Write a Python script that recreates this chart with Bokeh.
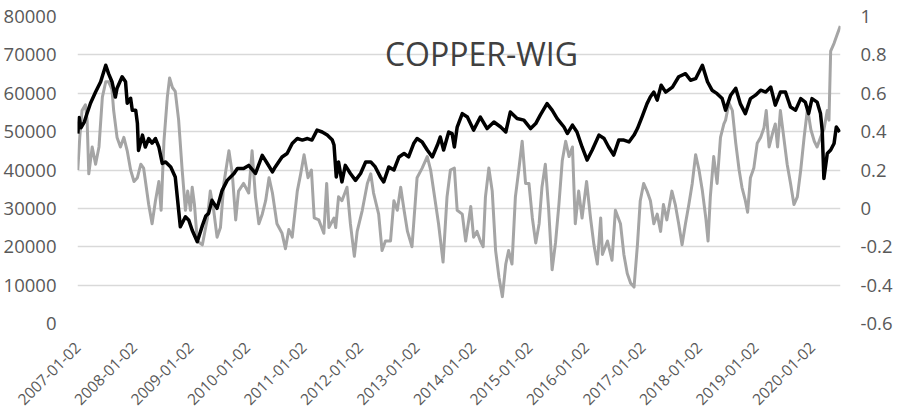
from bokeh.plotting import figure
from bokeh.models import Range1d, LinearAxis, FixedTicker, Label
from bokeh.embed import file_html
from bokeh.resources import INLINE
import math

title_text = "COPPER-WIG"
tick_years = list(range(2007, 2021))
tick_labels = [f"{y}-01-02" for y in tick_years]
left_ticks = [0, 10000, 20000, 30000, 40000, 50000, 60000, 70000, 80000]
right_ticks = [-0.6, -0.4, -0.2, 0, 0.2, 0.4, 0.6, 0.8, 1]
right_labels = ["-0.6", "-0.4", "-0.2", "0", "0.2", "0.4", "0.6", "0.8", "1"]

wig_year = [2007.005, 2007.03, 2007.06, 2007.12, 2007.17, 2007.23, 2007.32, 2007.41, 2007.50, 2007.55,
            2007.61, 2007.67, 2007.70, 2007.79, 2007.85, 2007.88, 2007.94, 2007.97, 2008.03, 2008.06,
            2008.08, 2008.15, 2008.20, 2008.26, 2008.32, 2008.38, 2008.44, 2008.50, 2008.56, 2008.65,
            2008.73, 2008.79, 2008.82, 2008.91, 2008.97, 2009.03, 2009.12, 2009.21, 2009.27, 2009.32,
            2009.38, 2009.47, 2009.56, 2009.65, 2009.77, 2009.83, 2009.94, 2010.03, 2010.15, 2010.27,
            2010.36, 2010.45, 2010.50, 2010.62, 2010.71, 2010.80, 2010.89, 2010.98, 2011.07, 2011.15,
            2011.24, 2011.33, 2011.42, 2011.51, 2011.54, 2011.58, 2011.62, 2011.68, 2011.74, 2011.83,
            2011.92, 2012.01, 2012.10, 2012.19, 2012.27, 2012.36, 2012.42, 2012.51, 2012.60, 2012.69,
            2012.78, 2012.86, 2012.95, 2013.01, 2013.10, 2013.19, 2013.28, 2013.37, 2013.42, 2013.48,
            2013.57, 2013.63, 2013.67, 2013.72, 2013.81, 2013.90, 2014.01, 2014.13, 2014.25, 2014.37,
            2014.49, 2014.58, 2014.66, 2014.78, 2014.90, 2015.02, 2015.11, 2015.19, 2015.31, 2015.40,
            2015.49, 2015.61, 2015.67, 2015.76, 2015.84, 2015.93, 2016.02, 2016.11, 2016.23, 2016.32,
            2016.40, 2016.49, 2016.58, 2016.67, 2016.76, 2016.85, 2016.91, 2016.99, 2017.08, 2017.14,
            2017.20, 2017.26, 2017.33, 2017.41, 2017.53, 2017.64, 2017.76, 2017.85, 2017.94, 2018.06,
            2018.15, 2018.23, 2018.32, 2018.41, 2018.47, 2018.56, 2018.65, 2018.73, 2018.82, 2018.91,
            2019.00, 2019.09, 2019.18, 2019.27, 2019.35, 2019.44, 2019.53, 2019.62, 2019.71, 2019.80,
            2019.88, 2019.94, 2020.00, 2020.09, 2020.15, 2020.18, 2020.21, 2020.27, 2020.33, 2020.39,
            2020.43, 2020.49]
wig_vals = [49500, 53700, 51000, 52500, 54800, 57400, 60300, 63000, 67300, 65100,
            63000, 59000, 61300, 64300, 63000, 57400, 58700, 55600, 55600, 52200,
            45100, 49100, 46000, 48200, 47000, 48200, 46000, 41700, 42100, 40800,
            38200, 29500, 25200, 27800, 26900, 24300, 21300, 25500, 28000, 28700,
            32100, 30000, 34700, 37300, 39100, 40400, 40400, 41200, 39100, 43800,
            41700, 39500, 40800, 43400, 44300, 46900, 48200, 47800, 48200, 47800,
            50400, 49900, 49100, 47800, 46500, 38200, 42100, 36900, 41200, 39100,
            37300, 39100, 42100, 42100, 40800, 38200, 36900, 40800, 40000, 43400,
            44300, 43400, 46900, 48200, 47300, 45200, 43400, 46500, 48600, 45200,
            49900, 49500, 46000, 51200, 54700, 53800, 50400, 53800, 50800, 52500,
            51200, 49900, 55100, 53400, 53000, 50800, 52100, 54300, 57300, 55600,
            53400, 51200, 49500, 51700, 49900, 46000, 42600, 45200, 49100, 48200,
            46000, 43900, 47800, 47800, 47300, 49100, 50800, 53800, 57300, 59100,
            60300, 58200, 62100, 60300, 61600, 64300, 65100, 63400, 63800, 67300,
            63000, 60800, 59900, 58600, 55600, 59500, 61300, 57300, 54700, 58600,
            59500, 60800, 60300, 61600, 56900, 60300, 60300, 56400, 55600, 58600,
            57700, 54700, 58600, 57700, 54700, 50400, 37800, 44300, 45200, 46900,
            51200, 49900]

corr_year = [2007.005, 2007.04, 2007.08, 2007.14, 2007.17, 2007.20, 2007.26, 2007.32, 2007.38, 2007.44,
             2007.50, 2007.55, 2007.61, 2007.64, 2007.70, 2007.76, 2007.82, 2007.88, 2007.94, 2008.00,
             2008.06, 2008.12, 2008.17, 2008.26, 2008.32, 2008.38, 2008.44, 2008.48, 2008.53, 2008.59,
             2008.63, 2008.68, 2008.73, 2008.79, 2008.85, 2008.91, 2008.95, 2009.00, 2009.03, 2009.07,
             2009.12, 2009.21, 2009.30, 2009.35, 2009.41, 2009.47, 2009.53, 2009.59, 2009.68, 2009.74,
             2009.80, 2009.85, 2009.94, 2010.03, 2010.09, 2010.15, 2010.21, 2010.27, 2010.33, 2010.39,
             2010.45, 2010.53, 2010.62, 2010.68, 2010.74, 2010.80, 2010.89, 2010.95, 2011.01, 2011.08,
             2011.14, 2011.19, 2011.27, 2011.36, 2011.41, 2011.45, 2011.54, 2011.57, 2011.62, 2011.68,
             2011.77, 2011.83, 2011.90, 2011.95, 2012.04, 2012.13, 2012.19, 2012.24, 2012.33, 2012.39,
             2012.45, 2012.54, 2012.60, 2012.66, 2012.72, 2012.78, 2012.84, 2012.92, 2013.01, 2013.10,
             2013.19, 2013.25, 2013.34, 2013.39, 2013.47, 2013.54, 2013.60, 2013.67, 2013.72, 2013.81,
             2013.87, 2013.96, 2014.01, 2014.07, 2014.13, 2014.18, 2014.22, 2014.28, 2014.34, 2014.40,
             2014.46, 2014.52, 2014.58, 2014.63, 2014.69, 2014.75, 2014.81, 2014.87, 2014.93, 2014.99,
             2015.05, 2015.11, 2015.17, 2015.22, 2015.28, 2015.34, 2015.40, 2015.46, 2015.52, 2015.58,
             2015.64, 2015.70, 2015.76, 2015.81, 2015.87, 2015.93, 2016.01, 2016.08, 2016.14, 2016.20,
             2016.26, 2016.29, 2016.38, 2016.46, 2016.52, 2016.61, 2016.67, 2016.73, 2016.79, 2016.85,
             2016.91, 2016.96, 2017.02, 2017.08, 2017.14, 2017.20, 2017.26, 2017.32, 2017.37, 2017.43,
             2017.52, 2017.58, 2017.64, 2017.70, 2017.76, 2017.82, 2017.88, 2017.94, 2018.00, 2018.06,
             2018.12, 2018.16, 2018.20, 2018.26, 2018.32, 2018.38, 2018.44, 2018.47, 2018.53, 2018.59,
             2018.65, 2018.71, 2018.76, 2018.82, 2018.86, 2018.91, 2018.97, 2019.03, 2019.09, 2019.15,
             2019.19, 2019.24, 2019.30, 2019.35, 2019.39, 2019.44, 2019.50, 2019.56, 2019.62, 2019.68,
             2019.74, 2019.80, 2019.86, 2019.92, 2019.98, 2020.04, 2020.09, 2020.15, 2020.21, 2020.27,
             2020.30, 2020.33, 2020.39, 2020.45, 2020.50]
corr_vals = [0.20, 0.37, 0.51, 0.54, 0.46, 0.18, 0.32, 0.23, 0.32, 0.58,
             0.66, 0.66, 0.62, 0.51, 0.37, 0.32, 0.37, 0.30, 0.20, 0.14,
             0.16, 0.23, 0.21, 0.02, -0.08, 0.04, 0.14, -0.01, 0.35, 0.58,
             0.68, 0.63, 0.61, 0.46, 0.21, -0.01, 0.09, -0.01, 0.11, 0.02,
             -0.17, -0.19, -0.05, 0.09, -0.01, -0.15, -0.10, 0.13, 0.30, 0.18,
             -0.06, 0.09, 0.13, 0.08, 0.30, 0.06, -0.08, -0.03, 0.04, 0.16,
             0.08, -0.08, -0.13, -0.21, -0.11, -0.15, 0.09, 0.18, 0.28, 0.16,
             0.20, -0.05, -0.06, -0.13, 0.13, -0.10, -0.05, -0.10, 0.06, 0.04,
             0.11, -0.08, -0.25, -0.12, -0.01, 0.13, 0.18, 0.08, -0.03, -0.22,
             -0.17, -0.17, 0.04, -0.01, 0.11, -0.01, -0.12, -0.20, 0.16, 0.21,
             0.27, 0.20, 0.02, -0.08, -0.28, 0.06, 0.20, 0.21, -0.01, -0.03,
             -0.17, 0.01, -0.15, -0.12, -0.17, -0.20, 0.06, 0.21, 0.09, -0.22,
             -0.36, -0.46, -0.29, -0.22, -0.29, 0.06, 0.20, 0.35, 0.13, 0.13,
             -0.05, -0.18, -0.08, 0.11, 0.23, -0.01, -0.32, -0.18, 0.02, 0.25,
             0.35, 0.27, 0.32, -0.08, 0.09, -0.05, 0.14, -0.05, -0.19, -0.29,
             -0.05, -0.24, -0.17, -0.27, -0.01, -0.08, -0.24, -0.34, -0.39, -0.41,
             -0.19, 0.04, 0.13, 0.09, 0.04, -0.08, -0.03, -0.12, 0.02, -0.06,
             0.09, 0.02, -0.08, -0.19, -0.08, 0.02, 0.13, 0.28, 0.20, 0.09,
             -0.05, -0.17, 0.06, 0.27, 0.13, 0.37, 0.44, 0.46, 0.55, 0.51,
             0.34, 0.20, 0.11, 0.04, -0.02, 0.16, 0.21, 0.34, 0.37, 0.42,
             0.51, 0.32, 0.39, 0.44, 0.32, 0.51, 0.37, 0.23, 0.13, 0.02,
             0.06, 0.20, 0.37, 0.52, 0.41, 0.35, 0.32, 0.37, 0.41, 0.51,
             0.46, 0.82, 0.86, 0.91, 0.95]

assert len(wig_year) == len(wig_vals)
assert len(corr_year) == len(corr_vals)

FONT = "Open Sans"
LABEL_COLOR = "#595959"

p = figure(width=899, height=413, output_backend="svg", toolbar_location=None,
           x_range=Range1d(2007, 2020.504), y_range=Range1d(0, 80000),
           min_border_left=77, min_border_right=59, min_border_top=16, min_border_bottom=90)
p.outline_line_color = None
p.background_fill_color = "white"
p.border_fill_color = "white"

p.extra_y_ranges = {"corr": Range1d(-0.6, 1.0)}

p.xgrid.grid_line_color = None
p.ygrid.grid_line_color = "#D9D9D9"
p.ygrid.grid_line_width = 1.5
p.ygrid.ticker = FixedTicker(ticks=left_ticks)


def style_axis(ax, size, standoff):
    ax.axis_line_color = None
    ax.major_tick_line_color = None
    ax.minor_tick_line_color = None
    ax.major_tick_out = 0
    ax.major_tick_in = 0
    ax.minor_tick_out = 0
    ax.minor_tick_in = 0
    ax.major_label_standoff = standoff
    ax.major_label_text_font = FONT
    ax.major_label_text_font_size = size
    ax.major_label_text_color = LABEL_COLOR


# left axis
ya = p.yaxis[0]
ya.ticker = FixedTicker(ticks=left_ticks)
style_axis(ya, "18.5px", 21)

# right axis
ra = LinearAxis(y_range_name="corr", ticker=FixedTicker(ticks=right_ticks))
ra.major_label_overrides = {t: l for t, l in zip(right_ticks, right_labels)}
style_axis(ra, "18.5px", 20)
p.add_layout(ra, "right")

# bottom axis
xa = p.xaxis[0]
xa.ticker = FixedTicker(ticks=tick_years)
xa.major_label_overrides = {t: l for t, l in zip(tick_years, tick_labels)}
xa.major_label_orientation = math.pi / 4
style_axis(xa, "15.5px", 21)

p.line(corr_year, corr_vals, y_range_name="corr", line_color="#A5A5A5", line_width=3, line_join="round")
p.line(wig_year, wig_vals, line_color="#000000", line_width=3.5, line_join="round")

p.add_layout(Label(x=2014.15, y=70300, text=title_text, text_align="center",
                   text_baseline="alphabetic", text_font=FONT, text_font_size="32px",
                   text_color="#404040"))

open("out.html", "w").write(file_html(p, INLINE))
